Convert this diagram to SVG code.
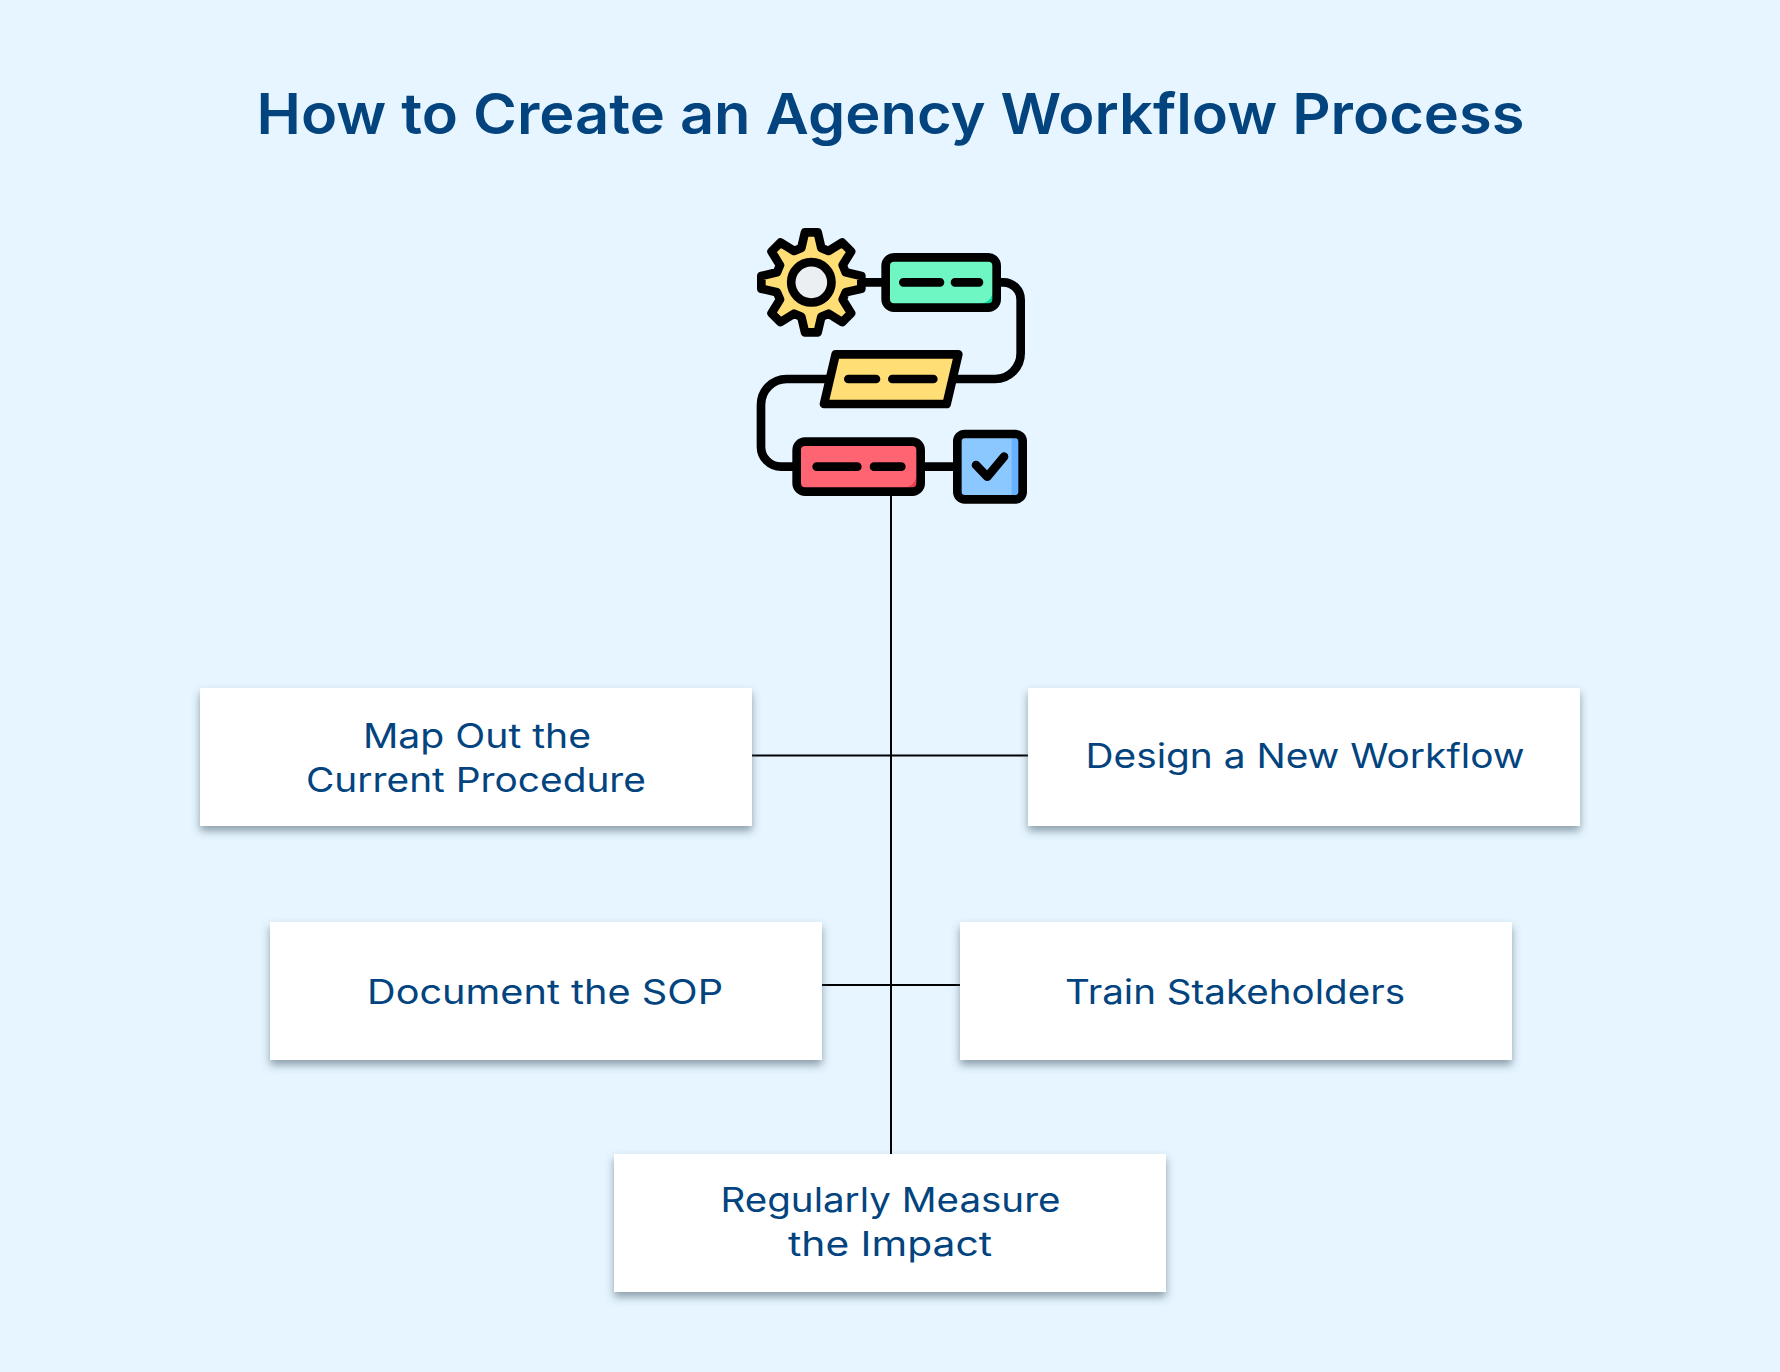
<svg xmlns="http://www.w3.org/2000/svg" width="1780" height="1372" viewBox="0 0 1780 1372">
<defs>
<filter id="sh" x="-5%" y="-10%" width="110%" height="130%"><feDropShadow dx="0" dy="5" stdDeviation="4" flood-color="#3f5563" flood-opacity="0.55"/></filter>
</defs>
<style>
.bg{fill:#e6f5ff}
.box{fill:#fff;filter:url(#sh)}
.t{font-family:"Inter","Noto Sans","Liberation Sans",sans-serif;fill:#03447f;text-anchor:middle;font-size:33.500px;font-weight:400}
.title{font-size:56px;font-weight:600}
.c{stroke:#000;stroke-width:2;fill:none}
.i{stroke:#000;stroke-width:26;stroke-linecap:round;stroke-linejoin:round;fill:none}
</style>
<rect class="bg" width="1780" height="1372"/>
<text id="title" class="t title" x="890.500" y="134" textLength="1268" lengthAdjust="spacingAndGlyphs">How to Create an Agency Workflow Process</text>
<g id="connectors">
<path class="c" d="M891 490V1155M752 755.500H1028M822 985H960"/>
</g>
<g id="icon" transform="translate(740 210) scale(.33333)">
<path class="i" d="M375 217H425M782 217H790A52 52 0 0 1 842 269V430A77 77 0 0 1 765 507H645M260 507H140A77 77 0 0 0 63 584V710A60 60 0 0 0 123 770H160M555 770H640"/>
<g transform="translate(214 217)">
<path class="i" style="fill:#ffdf75" d="M-30-103L-19-150L19-150L30-103L51.500-94L92.600-119.500L119.500-92.600L94-51.600L103-30L150-19L150 19L103 30L94 51.500L119.500 92.600L92.600 119.500L51.600 94L30 103L19 150L-19 150L-30 103L-51.500 94L-92.600 119.500L-119.500 92.600L-94 51.600L-103 30L-150 19L-150-19L-103-30L-94-51.500L-119.500-92.600L-92.600-119.500L-51.600-94Z"/>
<circle class="i" style="fill:#eceff1" r="60.500"/>
</g>
<rect x="437" y="142" width="333" height="151" rx="25" fill="#6ff7c3"/>
<path d="M758 250V270Q758 281 745 281H720Q750 280 758 250Z" fill="#05d69a"/>
<rect class="i" x="437" y="142" width="333" height="151" rx="25"/>
<path class="i" d="M490 217H600M645 217H717"/>
<path class="i" style="fill:#ffdf75" d="M287 433H655L620 582H252Z"/>
<path class="i" d="M325 507H408M457 507H580"/>
<rect x="170" y="695" width="372" height="150" rx="25" fill="#ff6473"/>
<path d="M530 800V820Q530 833 515 833H490Q522 830 530 800Z" fill="#e83f52"/>
<rect class="i" x="170" y="695" width="372" height="150" rx="25"/>
<path class="i" d="M230 770H352M402 770H484"/>
<rect x="652" y="672" width="196" height="196" rx="22" fill="#8bc8ff"/>
<rect x="815" y="684" width="21" height="172" fill="#66b2ff"/>
<rect class="i" x="652" y="672" width="196" height="196" rx="22"/>
<path class="i" d="M708 765L742 800L792 740"/>
</g>
<g id="n1"><rect class="box" x="200" y="688" width="552" height="138"/><text class="t" x="477" y="748" textLength="228" lengthAdjust="spacingAndGlyphs">Map Out the</text><text class="t" x="476" y="792" textLength="340" lengthAdjust="spacingAndGlyphs">Current Procedure</text></g>
<g id="n2"><rect class="box" x="1028" y="688" width="552" height="138"/><text class="t" x="1305" y="768" textLength="439" lengthAdjust="spacingAndGlyphs">Design a New Workflow</text></g>
<g id="n3"><rect class="box" x="270" y="922" width="552" height="138"/><text class="t" x="545" y="1003.500" textLength="356" lengthAdjust="spacingAndGlyphs">Document the SOP</text></g>
<g id="n4"><rect class="box" x="960" y="922" width="552" height="138"/><text class="t" x="1235" y="1003.500" textLength="340" lengthAdjust="spacingAndGlyphs">Train Stakeholders</text></g>
<g id="n5"><rect class="box" x="614" y="1154" width="552" height="138"/><text class="t" x="890.500" y="1212" textLength="340" lengthAdjust="spacingAndGlyphs">Regularly Measure</text><text class="t" x="890" y="1255.500" textLength="204" lengthAdjust="spacingAndGlyphs">the Impact</text></g>
</svg>
